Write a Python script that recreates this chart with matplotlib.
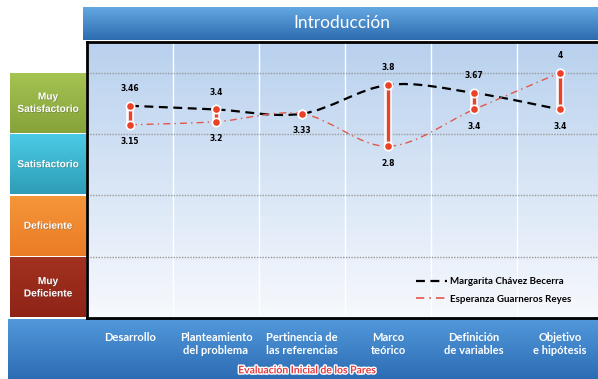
import numpy as np
import matplotlib
matplotlib.use("Agg")
import matplotlib.pyplot as plt
from matplotlib.path import Path
from matplotlib.patches import PathPatch
from matplotlib.colors import LinearSegmentedColormap
import matplotlib.patheffects as pe

# data
categorias = ["Desarrollo", "Planteamiento\ndel problema", "Pertinencia de\nlas referencias",
              "Marco\nteórico", "Definición\nde variables", "Objetivo\ne hipótesis"]
margarita = [3.46, 3.4, 3.33, 3.8, 3.67, 3.4]
esperanza = [3.15, 3.2, 3.33, 2.8, 3.4, 4.0]
niveles = ["Muy\nDeficiente", "Deficiente", "Satisfactorio", "Muy\nSatisfactorio"]
colores_nivel = [("#a3311f", "#8e2417"), ("#f5963a", "#ea7c25"),
                 ("#4ccbe6", "#2f9db6"), ("#a5c452", "#86a23a")]

W, H = 598, 379
fig = plt.figure(figsize=(W / 100, H / 100), dpi=100)
fig.patch.set_facecolor("white")


def px(x0, y0, x1, y1):
    return [x0 / W, 1 - y1 / H, (x1 - x0) / W, (y1 - y0) / H]


def grad_axes(rect, top, bottom, z=0):
    a = fig.add_axes(rect, zorder=z)
    cmap = LinearSegmentedColormap.from_list("g", [top, bottom])
    a.imshow(np.linspace(0, 1, 64)[:, None], aspect="auto", cmap=cmap,
             extent=[0, 1, 0, 1])
    a.set_xlim(0, 1)
    a.set_ylim(0, 1)
    a.axis("off")
    return a


# title bar
tb = grad_axes(px(83, 7, 600, 40), "#64a8e2", "#2d6cb0")
tb.text(0.5, 0.5, "Introducción", color="white", fontsize=12.5, family="Lato",
        ha="center", va="center")

# bottom bar
bb = grad_axes(px(8, 319, 600, 380), "#5298db", "#2c6cb3", z=0)
bb.text(0.505, 0.15, "Evaluación Inicial de los Pares", color="#e53a3f",
        fontsize=7.5, fontweight="bold", family="Lato", ha="center", va="center",
        path_effects=[pe.withStroke(linewidth=2, foreground="white")])

# category boxes
for i, nivel in enumerate(niveles):
    y1 = 318 - i * 61.5
    y0 = y1 - 61.5
    a = grad_axes(px(10, y0 + 0.5, 86, y1 - 0.5), colores_nivel[i][0], colores_nivel[i][1])
    a.text(0.5, 0.5, nivel, color="white", fontsize=7.3, fontweight="bold",
           family="Liberation Sans", ha="center", va="center", linespacing=1.3,
           path_effects=[pe.withSimplePatchShadow(offset=(0.5, -0.5), alpha=0.4)])

# main axes
ax = fig.add_axes(px(87, 42, 603, 318), zorder=2)
ax.imshow(np.linspace(0, 1, 64)[:, None], aspect="auto",
          cmap=LinearSegmentedColormap.from_list("bg", ["#b9d1ee", "#f6f9fd"]),
          extent=[-0.5, 5.5, 0, 4.5], zorder=0)
ax.set_xlim(-0.5, 5.5)
ax.set_ylim(0, 4.5)

for xv in np.arange(0.5, 5.5, 1):
    ax.axvline(xv, color="white", lw=1, zorder=1)
for yv in [1, 2, 3, 4]:
    ax.axhline(yv, color="#999999", lw=1, ls=(0, (1, 1)), zorder=1)

for s in ax.spines.values():
    s.set_color("black")
    s.set_linewidth(2)

xs = np.arange(len(categorias))


def smooth_path(x, y):
    pts = np.column_stack([x, y]).astype(float)
    ext = np.vstack([pts[0], pts, pts[-1]])
    verts = [pts[0]]
    codes = [Path.MOVETO]
    for i in range(len(pts) - 1):
        p0, p1, p2, p3 = ext[i], ext[i + 1], ext[i + 2], ext[i + 3]
        c1 = p1 + (p2 - p0) / 6
        c2 = p2 - (p3 - p1) / 6
        verts += [c1, c2, p2]
        codes += [Path.CURVE4] * 3
    return Path(verts, codes)


ax.add_patch(PathPatch(smooth_path(xs, margarita), fill=False, color="black",
                       lw=1.6, ls=(0, (4, 2.5)), zorder=3))
ax.add_patch(PathPatch(smooth_path(xs, esperanza), fill=False, color="#e0584a",
                       lw=1.0, ls=(0, (5, 3, 1, 3)), zorder=3))

# legend handles
ax.plot([], [], color="black", lw=1.6, ls=(0, (4, 2.5)), label="Margarita Chávez Becerra")
ax.plot([], [], color="#e0584a", lw=1.2, ls=(0, (5, 3, 1, 3)), label="Esperanza Guarneros Reyes")

glow = [pe.Stroke(linewidth=5.5, foreground="white", alpha=0.9), pe.Normal()]
for x, a_, b_ in zip(xs, margarita, esperanza):
    hi, lo = max(a_, b_), min(a_, b_)
    ax.plot([x, x], [lo, hi], color="#ec4129", lw=2.4, zorder=4,
            solid_capstyle="round", path_effects=glow)
    ax.plot([x, x], [lo, hi], "o", color="#ec4129", ms=6, mec="white", mew=1.2,
            zorder=5)
    if hi != lo:
        ax.annotate(f"{hi:g}", (x, hi), xytext=(0, 9), textcoords="offset points",
                    ha="center", va="bottom", fontsize=5.5, fontweight="bold")
    ax.annotate(f"{lo:g}", (x, lo), xytext=(0, -9), textcoords="offset points",
                ha="center", va="top", fontsize=5.5, fontweight="bold")

ax.set_xticks(xs)
ax.set_xticklabels(categorias, color="white", fontsize=8, fontweight="bold",
                   family="Lato", linespacing=1.25)
ax.tick_params(axis="x", length=0, pad=10)
ax.set_yticks([])

leg = ax.legend(loc="lower right", bbox_to_anchor=(0.955, 0.02), frameon=False,
                prop={"family": "Lato", "weight": "bold", "size": 7},
                handlelength=3.2, handletextpad=0.3, labelspacing=0.9)

fig.savefig("out.png", dpi=100)
